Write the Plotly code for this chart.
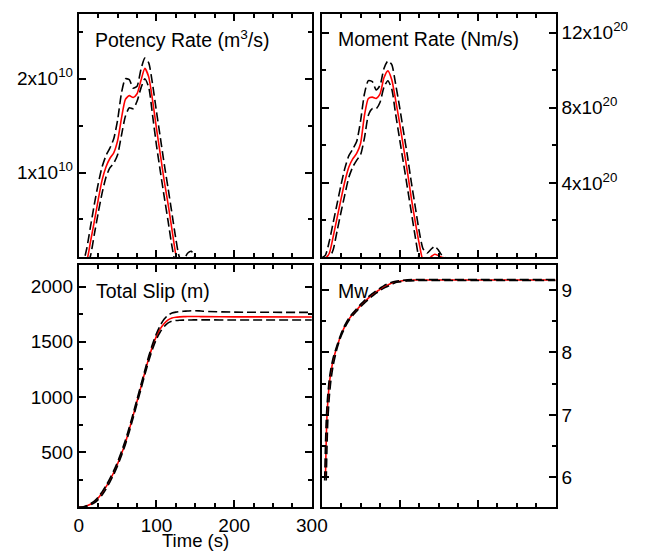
import plotly.graph_objects as go

# ---------------- data ----------------
time_rate = [0, 5, 10, 15, 20, 25, 30, 35, 40, 45, 50, 55, 60, 65, 70, 75, 80, 85, 90, 95,
             100, 105, 110, 115, 120, 125, 130, 135, 140, 145, 150, 155, 160, 200, 300]

# potency rate, units of 1e10 m^3/s
potency_best = [0, 0, 0.05, 0.26, 0.48, 0.71, 0.92, 1.06, 1.15, 1.21, 1.34, 1.58, 1.78, 1.82, 1.80, 1.84, 1.98, 2.11, 2.02, 1.77,
                1.47, 1.19, 0.91, 0.66, 0.39, 0.12, -0.02, -0.03, 0.0, 0.04, 0.02, 0.0, 0.0, 0.0, 0.0]
potency_upper = [0, 0.03, 0.18, 0.42, 0.66, 0.88, 1.06, 1.18, 1.26, 1.36, 1.56, 1.85, 2.0, 1.99, 1.9, 1.92, 2.1, 2.22, 2.17, 1.94,
                 1.65, 1.37, 1.09, 0.83, 0.56, 0.29, 0.09, 0.07, 0.14, 0.16, 0.09, 0.03, 0.0, 0.0, 0.0]
potency_lower = [0, 0, 0, 0.11, 0.34, 0.57, 0.78, 0.95, 1.05, 1.1, 1.19, 1.4, 1.6, 1.69, 1.68, 1.76, 1.9, 2.0, 1.91, 1.61,
                 1.29, 1.01, 0.74, 0.48, 0.21, 0.0, -0.1, -0.1, -0.05, 0.0, 0.0, 0.0, 0.0, 0.0, 0.0]

# moment rate, units of 1e20 Nm/s
moment_best = [0, 0, 0.25, 1.15, 2.15, 3.15, 4.1, 4.85, 5.28, 5.57, 6.1, 7.6, 8.5, 8.57, 8.5, 8.75, 9.6, 9.97, 9.5, 8.4,
               7.2, 5.9, 4.6, 3.2, 1.95, 0.8, -0.1, -0.15, 0.05, 0.2, 0.12, 0.02, 0.0, 0.0, 0.0]
moment_upper = [0, 0.15, 0.9, 1.9, 2.9, 3.9, 4.8, 5.45, 5.8, 6.2, 7.3, 8.75, 9.45, 9.4, 8.95, 9.2, 10.1, 10.5, 10.3, 9.25,
                8.05, 6.75, 5.45, 4.05, 2.75, 1.45, 0.5, 0.25, 0.45, 0.62, 0.4, 0.1, 0.0, 0.0, 0.0]
moment_lower = [0, 0, 0, 0.45, 1.45, 2.45, 3.4, 4.3, 4.85, 5.2, 5.5, 6.4, 7.6, 7.95, 7.95, 8.3, 9.1, 9.44, 9.0, 7.65,
                6.35, 5.05, 3.75, 2.45, 1.15, 0.0, -0.3, -0.3, -0.1, 0.0, 0.0, 0.0, 0.0, 0.0, 0.0]

# total slip, m
slip_best = [0, 2, 12, 28, 48, 85, 130, 185, 245, 315, 395, 485, 585, 705, 832, 960, 1090, 1222, 1348, 1460,
             1550, 1618, 1665, 1698, 1715, 1722, 1725, 1727, 1728, 1729, 1729, 1728, 1727, 1725, 1724]
slip_upper = [0, 2, 14, 32, 56, 92, 140, 195, 260, 332, 412, 505, 608, 725, 850, 980, 1110, 1240, 1368, 1480,
              1575, 1650, 1705, 1742, 1760, 1768, 1773, 1776, 1778, 1780, 1780, 1779, 1776, 1768, 1766]
slip_lower = [0, 1, 8, 22, 40, 70, 112, 165, 228, 298, 378, 470, 570, 685, 810, 940, 1070, 1200, 1325, 1435,
              1525, 1590, 1638, 1670, 1686, 1692, 1695, 1696, 1697, 1697, 1698, 1698, 1698, 1697, 1697]

# moment magnitude (None = not yet defined at that time)
time_mw = [4, 5, 6, 7, 8, 10, 12, 15, 20, 25, 30, 35, 40, 45, 50, 55, 60, 65, 70, 75, 80, 85, 90, 95,
           100, 110, 120, 150, 200, 300]
mw_best = [None, 6.0, 6.6, 7.0, 7.2, 7.5, 7.68, 7.88, 8.1, 8.28, 8.42, 8.53, 8.61, 8.68, 8.75, 8.81, 8.87, 8.92, 8.97, 9.01,
           9.05, 9.08, 9.11, 9.13, 9.14, 9.155, 9.16, 9.16, 9.16, 9.16]
mw_upper = [5.95, 6.5, 6.9, 7.15, 7.32, 7.58, 7.74, 7.92, 8.12, 8.3, 8.44, 8.55, 8.63, 8.7, 8.77, 8.83, 8.89, 8.94, 8.99, 9.03,
            9.07, 9.1, 9.125, 9.14, 9.15, 9.162, 9.167, 9.168, 9.167, 9.167]
mw_lower = [None, None, 5.95, 6.5, 6.9, 7.3, 7.55, 7.8, 8.07, 8.26, 8.4, 8.51, 8.59, 8.66, 8.73, 8.79, 8.85, 8.9, 8.95, 8.99,
            9.03, 9.06, 9.09, 9.12, 9.13, 9.145, 9.15, 9.152, 9.152, 9.152]

potency_ticks = [1, 2]
potency_ticktext = ["1x10<sup>10</sup>", "2x10<sup>10</sup>"]
moment_ticks = [4, 8, 12]
moment_ticktext = ["4x10<sup>20</sup>", "8x10<sup>20</sup>", "12x10<sup>20</sup>"]
slip_ticks = [500, 1000, 1500, 2000]
slip_ticktext = ["500", "1000", "1500", "2000"]

# ---------------- figure ----------------
# the page body has an 8px margin, so the figure is placed at (8, 8) in the window
OFF = 8
PAGE_W, PAGE_H = 649, 552
W, H = PAGE_W - OFF, PAGE_H - OFF
FONT = "Liberation Sans, Arial, Helvetica, sans-serif"
TICK_SIZE = 19
TITLE_SIZE = 19.5
RED = "#ff0000"
DASH = "9px,4px"


def px_x(a, b):
    return [(a - OFF) / W, (b - OFF) / W]


def px_y(top, bottom):
    return [(PAGE_H - bottom) / H, (PAGE_H - top) / H]


def pt(x, y):
    return (x - OFF) / W, (PAGE_H - y) / H


fig = go.Figure()

panels = [
    ("x", "y", time_rate, potency_best, potency_upper, potency_lower),
    ("x2", "y2", time_rate, moment_best, moment_upper, moment_lower),
    ("x3", "y3", time_rate, slip_best, slip_upper, slip_lower),
    ("x4", "y4", time_mw, mw_best, mw_upper, mw_lower),
]
for xa, ya, t, best, up, lo in panels:
    fig.add_trace(go.Scatter(x=t, y=best, xaxis=xa, yaxis=ya, mode="lines",
                             line=dict(color=RED, width=1.6, shape="spline", smoothing=0.6), showlegend=False))
    for s in (up, lo):
        fig.add_trace(go.Scatter(x=t, y=s, xaxis=xa, yaxis=ya, mode="lines",
                                 line=dict(color="black", width=1.6, dash=DASH, shape="spline", smoothing=0.6),
                                 showlegend=False))

common = dict(showline=True, linewidth=2, linecolor="black", mirror="allticks",
              ticks="inside", ticklen=7, tickwidth=1.5, tickcolor="black",
              showgrid=False, zeroline=False,
              tickfont=dict(family=FONT, size=TICK_SIZE, color="black"))


def xaxis(domain, anchor, labels):
    return dict(domain=domain, anchor=anchor, range=[0, 300], tickmode="linear", tick0=0, dtick=100,
                showticklabels=labels,
                minor=dict(tick0=0, dtick=25, ticks="inside", ticklen=4, tickwidth=1.5, tickcolor="black",
                           showgrid=False),
                **common)


def yaxis(domain, anchor, rng, side, minor_dtick, **kw):
    return dict(domain=domain, anchor=anchor, range=rng, side=side,
                minor=dict(tick0=0, dtick=minor_dtick, ticks="inside", ticklen=4, tickwidth=1.5,
                           tickcolor="black", showgrid=False),
                **common, **kw)


XL = px_x(76, 317)
XR = px_x(327, 569)
YT = px_y(14, 257)
YB = px_y(265, 507.3)

fig.update_layout(
    width=W, height=H, margin=dict(l=0, r=0, t=0, b=0),
    paper_bgcolor="white", plot_bgcolor="white",
    font=dict(family=FONT, size=TICK_SIZE, color="black"),
    xaxis=xaxis(XL, "y", False),
    xaxis2=xaxis(XR, "y2", False),
    xaxis3=xaxis(XL, "y3", True),
    xaxis4=xaxis(XR, "y4", False),
    yaxis=yaxis(YT, "x", [0.1, 2.69], "left", 0.5, tickmode="array",
                tickvals=potency_ticks, ticktext=potency_ticktext),
    yaxis2=yaxis(YT, "x2", [0.05, 13.0], "right", 2, tickmode="array",
                 tickvals=moment_ticks, ticktext=moment_ticktext),
    yaxis3=yaxis(YB, "x3", [0, 2195], "left", 250, tickmode="array",
                 tickvals=slip_ticks, ticktext=slip_ticktext),
    yaxis4=yaxis(YB, "x4", [5.52, 9.4], "right", 0.5, tickmode="linear", tick0=0, dtick=1),
)

labels = [
    ("Potency Rate (m<sup>3</sup>/s)", 91, 39),
    ("Moment Rate (Nm/s)", 342, 39),
    ("Total Slip (m)", 92, 291),
    ("Mw", 342, 291),
]
for txt, x, y in labels:
    ax, ay = pt(x, y)
    fig.add_annotation(text=txt, x=ax, y=ay, xref="paper", yref="paper",
                       xanchor="left", yanchor="middle", showarrow=False,
                       font=dict(family=FONT, size=TITLE_SIZE, color="black"))

ax, ay = pt(196.5, 540.5)
fig.add_annotation(text="Time (s)", x=ax, y=ay, xref="paper", yref="paper",
                   xanchor="center", yanchor="middle", showarrow=False,
                   font=dict(family=FONT, size=18.5, color="black"))

fig.write_html("out.html")
